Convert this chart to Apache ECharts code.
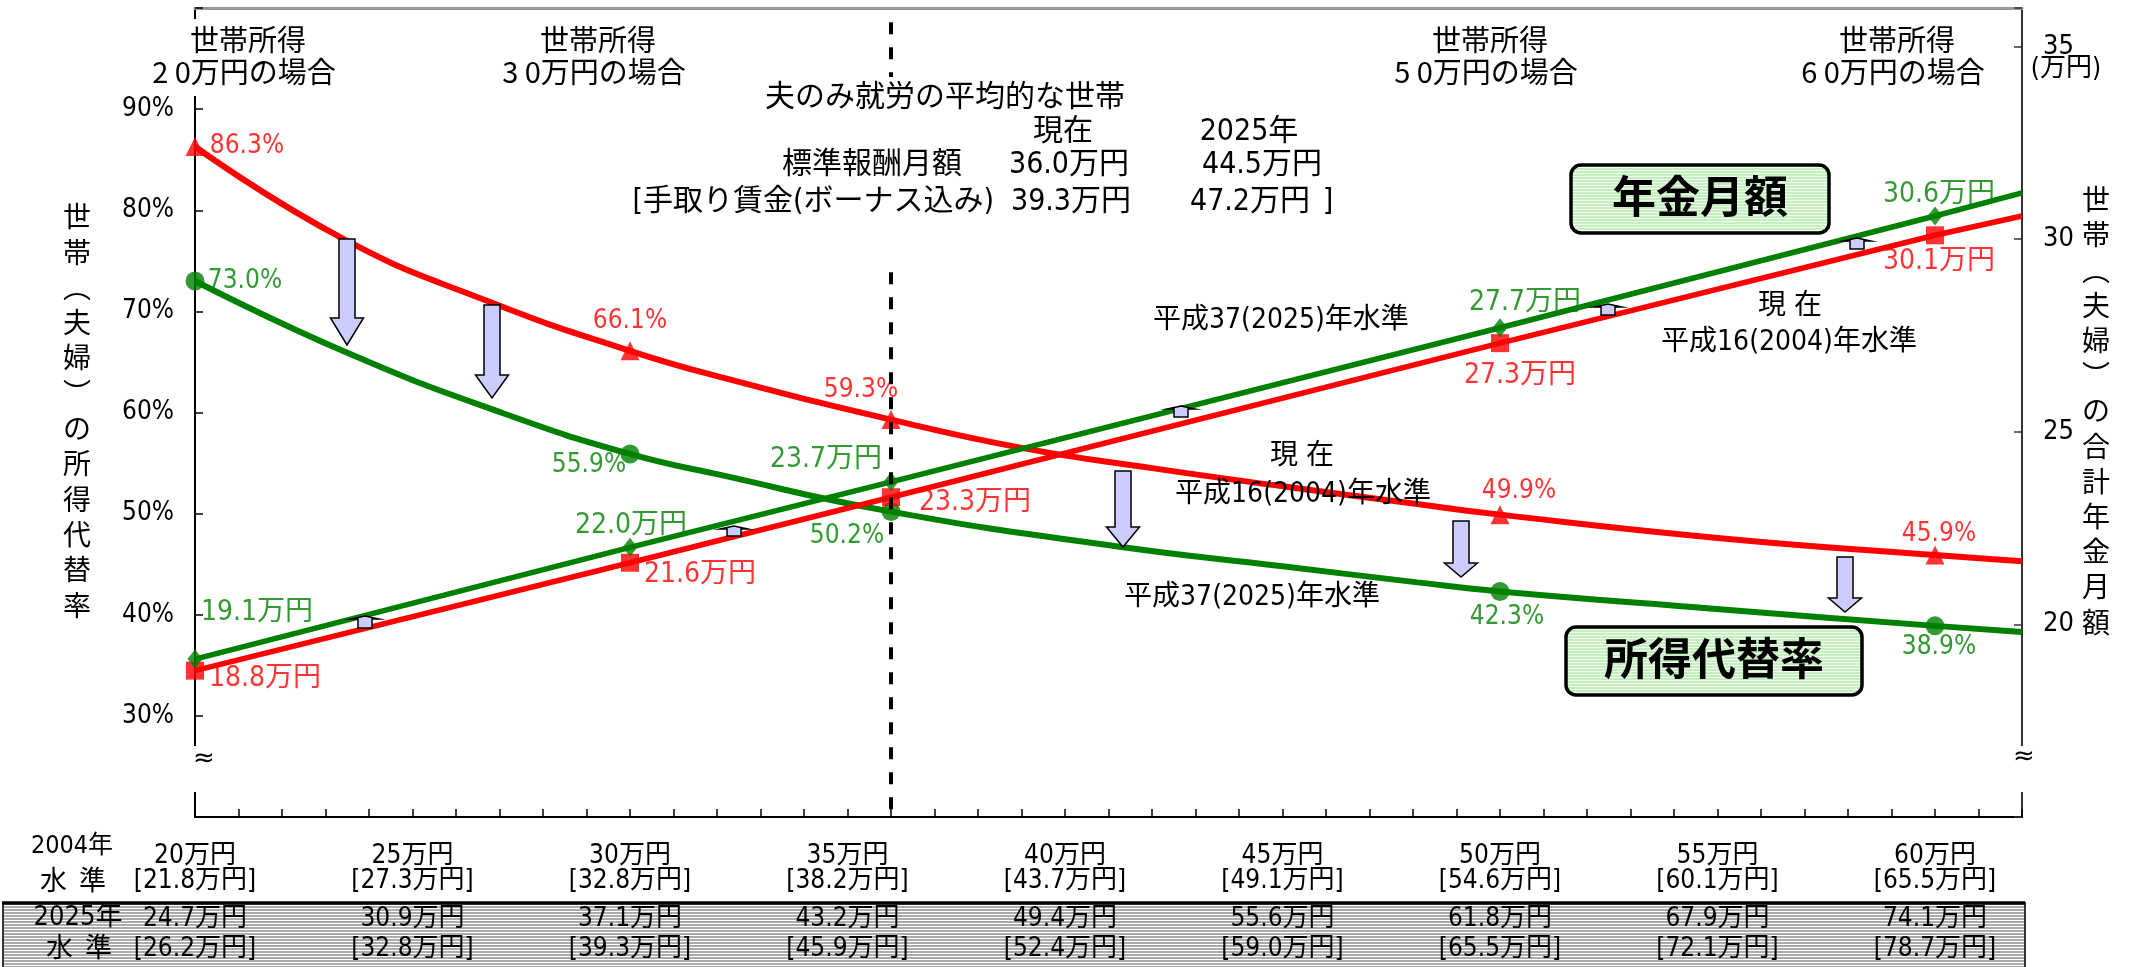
<!DOCTYPE html>
<html><head><meta charset="utf-8">
<script src="https://cdn.jsdelivr.net/npm/echarts@6/dist/echarts.min.js"></script>
<style>html,body{margin:0;padding:0;background:#fff}#c{width:2132px;height:967px}</style>
</head><body><div id="c"></div>
<script>
// ---------------- data ----------------
const markerIncome = [20, 30, 36, 50, 60];
const rate2004 = [86.3, 66.1, 59.3, 49.9, 45.9];
const rate2025 = [73.0, 55.9, 50.2, 42.3, 38.9];
const pension2004 = [18.8, 21.6, 23.3, 27.3, 30.1];
const pension2025 = [19.1, 22.0, 23.7, 27.7, 30.6];

// samples of the smooth curves
const rate2004CurveX = [20, 23.4, 26.8, 30, 32, 36, 39, 42, 45, 48, 50, 55, 60, 62];
const rate2004CurveY = [86.3, 77.2, 70.9, 66.1, 63.6, 59.3, 56.5, 54.5, 52.7, 51.0, 49.9, 47.6, 45.9, 45.3];
const rate2025CurveX = [20, 23.5, 27.1, 30, 32, 36, 41.3, 45, 48.1, 50, 54.9, 60, 62];
const rate2025CurveY = [73.0, 65.9, 59.9, 55.9, 53.9, 50.2, 46.7, 44.8, 43.2, 42.3, 40.6, 38.9, 38.3];
const lineEndX = 62;
const pension2004End = 30.6;
const pension2025End = 31.2;

const averageIncome = 36;
const incomeTicks = [20, 25, 30, 35, 40, 45, 50, 55, 60];
const income2004Labels = ['20万円','25万円','30万円','35万円','40万円','45万円','50万円','55万円','60万円'];
const takeHome2004Labels = ['[21.8万円]','[27.3万円]','[32.8万円]','[38.2万円]','[43.7万円]','[49.1万円]','[54.6万円]','[60.1万円]','[65.5万円]'];
const income2025Labels = ['24.7万円','30.9万円','37.1万円','43.2万円','49.4万円','55.6万円','61.8万円','67.9万円','74.1万円'];
const takeHome2025Labels = ['[26.2万円]','[32.8万円]','[39.3万円]','[45.9万円]','[52.4万円]','[59.0万円]','[65.5万円]','[72.1万円]','[78.7万円]'];
const rateTicks = [30, 40, 50, 60, 70, 80, 90];
const pensionTicks = [20, 25, 30, 35];

// label placement (offset of label centre from marker centre, px)
const rate2004LabelOff = [[52,0],[0,-30],[-30,-29],[19,-23],[4,-21]];
const rate2025LabelOff = [[50,0],[-41,11],[-44,25],[7,26],[4,21]];
const pension2004LabelOff = [[70,8],[70,12],[84,5],[20,33],[4,26]];
const pension2025LabelOff = [[62,-46],[1,-22],[-65,-22],[25,-25],[4,-21]];

// ---------------- styling ----------------
const NUMF = "'Liberation Sans Narrow','Arial Narrow','DejaVu Sans Condensed','Noto Sans CJK JP',sans-serif";
const JPF = "'Noto Sans CJK JP','Noto Sans CJK SC',sans-serif";
const RED = '#ff0000', GREEN = '#008000', LAV = '#ccccff';

function stripe(c1, h1, c2, h2) {
  const cv = document.createElement('canvas');
  cv.width = 4; cv.height = h1 + h2;
  const ctx = cv.getContext('2d');
  ctx.fillStyle = c1; ctx.fillRect(0, 0, 4, h1);
  ctx.fillStyle = c2; ctx.fillRect(0, h1, 4, h2);
  return { image: cv, repeat: 'repeat' };
}

function pairs(xs, ys) { return xs.map((x, i) => [x, ys[i]]); }
function markerData(ys, offs) {
  return markerIncome.map((x, i) => ({ value: [x, ys[i]], label: { offset: offs[i] } }));
}

const chart = echarts.init(document.getElementById('c'), null, { renderer: 'canvas', width: 2132, height: 967 });

function T(text, x, y, o) {
  o = o || {};
  return { type: 'text', x: x, y: y, z: o.z || 20, silent: true,
    style: { text: text, fontSize: o.fs || 28, fontFamily: o.ff || NUMF, fontWeight: o.fw || 'normal',
      fill: o.color || '#000', align: o.align || 'center', verticalAlign: o.va || 'middle', lineHeight: o.lh } };
}
function bigArrow(cx, y0, y1, y2) {
  return { type: 'polygon', z: 8, silent: true,
    shape: { points: [[cx-8,y0],[cx+8,y0],[cx+8,y1],[cx+16.5,y1],[cx,y2],[cx-16.5,y1],[cx-8,y1]] },
    style: { fill: LAV, stroke: '#000', lineWidth: 1.5 } };
}
function smallArrow(cx, y0, y1) {
  return { type: 'polygon', z: 8, silent: true,
    shape: { points: [[cx-7,y1],[cx-7,y0+3],[cx-14,y0+3],[cx,y0],[cx+14,y0+3],[cx+7,y0+3],[cx+7,y1]] },
    style: { fill: LAV, stroke: '#000', lineWidth: 1.5 } };
}

const rateLabelStyle = (c) => ({ show: true, position: 'inside', color: c, fontSize: 26, fontFamily: NUMF,
  formatter: p => p.value[1].toFixed(1) + '%' });
const penLabelStyle = (c) => ({ show: true, position: 'inside', color: c, fontSize: 28, fontFamily: NUMF,
  formatter: p => p.value[1].toFixed(1) + '万円' });

const leftName = ['世','帯','︵','夫','婦','︶','の','所','得','代','替','率'];
const rightName = ['世','帯','︵','夫','婦','︶','の','合','計','年','金','月','額'];

const option = {
  animation: false,
  backgroundColor: '#fff',
  grid: { left: 195, right: 110, top: 8, bottom: 150, containLabel: false },
  xAxis: [
    { type: 'value', min: 20, max: 62, interval: 1, position: 'bottom', z: 1,
      axisLine: { show: true, onZero: false, lineStyle: { color: '#000', width: 2 } },
      axisTick: { show: true, inside: true, length: 8, lineStyle: { color: '#000', width: 1.5 } },
      axisLabel: { color: '#000', fontSize: 26, lineHeight: 25, fontFamily: NUMF, margin: 27,
        formatter: v => { const i = incomeTicks.indexOf(v); return i < 0 ? '' : income2004Labels[i] + '\n' + takeHome2004Labels[i]; } },
      splitLine: { show: false } },
    { type: 'value', min: 20, max: 62, position: 'top', z: 1,
      axisLine: { show: true, onZero: false, lineStyle: { color: '#999', width: 3 } },
      axisTick: { show: false }, axisLabel: { show: false }, splitLine: { show: false } },
    { type: 'value', min: 20, max: 62, interval: 1, position: 'bottom', z: 3,
      axisLine: { show: false }, axisTick: { show: false }, splitLine: { show: false },
      axisLabel: { color: '#000', fontSize: 26, lineHeight: 30, fontFamily: NUMF, margin: 87,
        formatter: v => { const i = incomeTicks.indexOf(v); return i < 0 ? '' : income2025Labels[i] + '\n' + takeHome2025Labels[i]; } } }
  ],
  yAxis: [
    { type: 'value', min: 20, max: 100, interval: 10, position: 'left', z: 1,
      axisLine: { show: true, onZero: false, lineStyle: { color: '#000', width: 2 } },
      axisTick: { show: true, inside: true, length: 8, lineStyle: { color: '#000', width: 1.5 } },
      axisLabel: { color: '#000', fontSize: 26, fontFamily: NUMF, margin: 21,
        formatter: v => rateTicks.includes(v) ? v + '%' : '' },
      splitLine: { show: false } },
    { type: 'value', min: 15, max: 36, interval: 5, position: 'right', z: 1,
      axisLine: { show: true, onZero: false, lineStyle: { color: '#333', width: 2 } },
      axisTick: { show: true, inside: true, length: 8, lineStyle: { color: '#333', width: 1.5 } },
      axisLabel: { color: '#000', fontSize: 27, fontFamily: NUMF, margin: 21,
        formatter: v => pensionTicks.includes(v) ? String(v) : '' },
      splitLine: { show: false } }
  ],
  series: [
    { type: 'line', xAxisIndex: 0, yAxisIndex: 0, data: pairs(rate2004CurveX, rate2004CurveY),
      smooth: 0.5, symbol: 'none', silent: true, z: 2,
      lineStyle: { color: RED, width: 6 } },
    { type: 'line', xAxisIndex: 0, yAxisIndex: 0, data: pairs(rate2025CurveX, rate2025CurveY),
      smooth: 0.5, symbol: 'none', silent: true, z: 2,
      lineStyle: { color: GREEN, width: 6 } },
    { type: 'line', xAxisIndex: 0, yAxisIndex: 1,
      data: pairs(markerIncome, pension2004).concat([[lineEndX, pension2004End]]),
      symbol: 'none', silent: true, z: 2, lineStyle: { color: RED, width: 5.5 } },
    { type: 'line', xAxisIndex: 0, yAxisIndex: 1,
      data: pairs(markerIncome, pension2025).concat([[lineEndX, pension2025End]]),
      symbol: 'none', silent: true, z: 2, lineStyle: { color: GREEN, width: 5.5 } },
    { type: 'scatter', xAxisIndex: 0, yAxisIndex: 0, data: markerData(rate2004, rate2004LabelOff),
      symbol: 'triangle', symbolSize: 19, itemStyle: { color: RED }, label: rateLabelStyle(RED), z: 3, silent: true },
    { type: 'scatter', xAxisIndex: 0, yAxisIndex: 0, data: markerData(rate2025, rate2025LabelOff),
      symbol: 'circle', symbolSize: 19, itemStyle: { color: GREEN }, label: rateLabelStyle(GREEN), z: 3, silent: true },
    { type: 'scatter', xAxisIndex: 0, yAxisIndex: 1, data: markerData(pension2004, pension2004LabelOff),
      symbol: 'rect', symbolSize: 18, itemStyle: { color: RED }, label: penLabelStyle(RED), z: 3, silent: true },
    { type: 'scatter', xAxisIndex: 0, yAxisIndex: 1, data: markerData(pension2025, pension2025LabelOff),
      symbol: 'diamond', symbolSize: [15, 19], itemStyle: { color: GREEN }, label: penLabelStyle(GREEN), z: 3, silent: true },
    { type: 'line', xAxisIndex: 0, yAxisIndex: 0, data: [[averageIncome, 98.6], [averageIncome, 20]],
      symbol: 'none', silent: true, z: 6, lineStyle: { color: '#000', width: 4, type: [12, 13] } }
  ],
  graphic: { elements: [] }
};

const G = option.graphic.elements;
// table of 2025 level (striped grey)
G.push({ type: 'rect', z: 0, silent: true, shape: { x: 3, y: 903, width: 2022, height: 70 },
  style: { fill: stripe('#ababab', 2, '#ffffff', 1), stroke: '#333', lineWidth: 2 } });
G.push({ type: 'line', z: 1, silent: true, shape: { x1: 2, y1: 903, x2: 2025, y2: 903 }, style: { stroke: '#000', lineWidth: 3.5 } });
// axis gaps / breaks
G.push({ type: 'rect', z: 10, silent: true, shape: { x: 189, y: 19, width: 12, height: 77 }, style: { fill: '#fff' } });
G.push({ type: 'rect', z: 10, silent: true, shape: { x: 189, y: 746, width: 12, height: 46 }, style: { fill: '#fff' } });
G.push({ type: 'rect', z: 10, silent: true, shape: { x: 2016, y: 746, width: 12, height: 46 }, style: { fill: '#fff' } });
G.push(T('≈', 204, 759, { fs: 26, ff: "'DejaVu Sans',sans-serif" }));
G.push(T('≈', 2024, 757, { fs: 26, ff: "'DejaVu Sans',sans-serif" }));
// white behind central text block (hides dashed line)
G.push({ type: 'rect', z: 10, silent: true, shape: { x: 872, y: 77, width: 40, height: 186 }, style: { fill: '#fff' } });

// top titles
[[248,'2 0'],[598,'3 0'],[1490,'5 0'],[1897,'6 0']].forEach(([x, n]) => {
  G.push(T('世帯所得', x, 40, { fs: 29, ff: JPF }));
  G.push(T(n + '万円の場合', x - 4, 72, { fs: 29, ff: JPF }));
});
// central block
G.push(T('夫のみ就労の平均的な世帯', 945, 98, { fs: 30 }));
G.push(T('現在', 1063, 132, { fs: 30 }));
G.push(T('2025年', 1249, 132, { fs: 30 }));
G.push(T('標準報酬月額', 872, 165, { fs: 30 }));
G.push(T('36.0万円', 1069, 165, { fs: 30 }));
G.push(T('44.5万円', 1262, 165, { fs: 30 }));
G.push(T('[手取り賃金(ボーナス込み)', 994, 202, { fs: 30, align: 'right' }));
G.push(T('39.3万円', 1071, 202, { fs: 30 }));
G.push(T('47.2万円', 1250, 202, { fs: 30 }));
G.push(T(']', 1328, 202, { fs: 30 }));
// curve annotations
G.push(T('平成37(2025)年水準', 1153, 321, { align: 'left' }));
G.push(T('現 在', 1790, 307));
G.push(T('平成16(2004)年水準', 1789, 343));
G.push(T('現 在', 1302, 457));
G.push(T('平成16(2004)年水準', 1303, 495));
G.push(T('平成37(2025)年水準', 1252, 598));
// boxes
G.push({ type: 'rect', z: 12, silent: true, shape: { x: 1571, y: 165, width: 258, height: 68, r: 10 },
  style: { fill: stripe('#c4f0c0', 2, '#f2fff0', 1), stroke: '#000', lineWidth: 3.5 } });
G.push(T('年金月額', 1700, 196, { fs: 44, fw: 'bold', ff: JPF, z: 13 }));
G.push({ type: 'rect', z: 12, silent: true, shape: { x: 1566, y: 627, width: 296, height: 68, r: 10 },
  style: { fill: stripe('#c4f0c0', 2, '#f2fff0', 1), stroke: '#000', lineWidth: 3.5 } });
G.push(T('所得代替率', 1714, 658, { fs: 44, fw: 'bold', ff: JPF, z: 13 }));
// axis names
G.push(T(leftName.join('\n'), 77, 199, { fs: 28, ff: JPF, va: 'top', lh: 35.3 }));
G.push(T(rightName.join('\n'), 2096, 182, { fs: 28, ff: JPF, va: 'top', lh: 35.2 }));
G.push(T('(万円)', 2066, 69, { fs: 26 }));
// table row headers
G.push(T('2004年', 72, 846, { fs: 25 }));
G.push(T('水  準', 73, 880, { fs: 27, ff: JPF }));
G.push(T('2025年', 78, 918, { fs: 27, z: 5 }));
G.push(T('水  準', 79, 947, { fs: 27, ff: JPF, z: 5 }));
// arrows
[[347,239,318,345],[492,305,375,398],[1123,471,527,547],[1461,521,563,577],[1845,557,598,612]]
  .forEach(a => G.push(bigArrow(a[0], a[1], a[2], a[3])));
[[365,616,628],[734,526,536],[1181,406,417],[1608,304,315],[1857,238,249]]
  .forEach(a => G.push(smallArrow(a[0], a[1], a[2])));

chart.setOption(option);
</script></body></html>
